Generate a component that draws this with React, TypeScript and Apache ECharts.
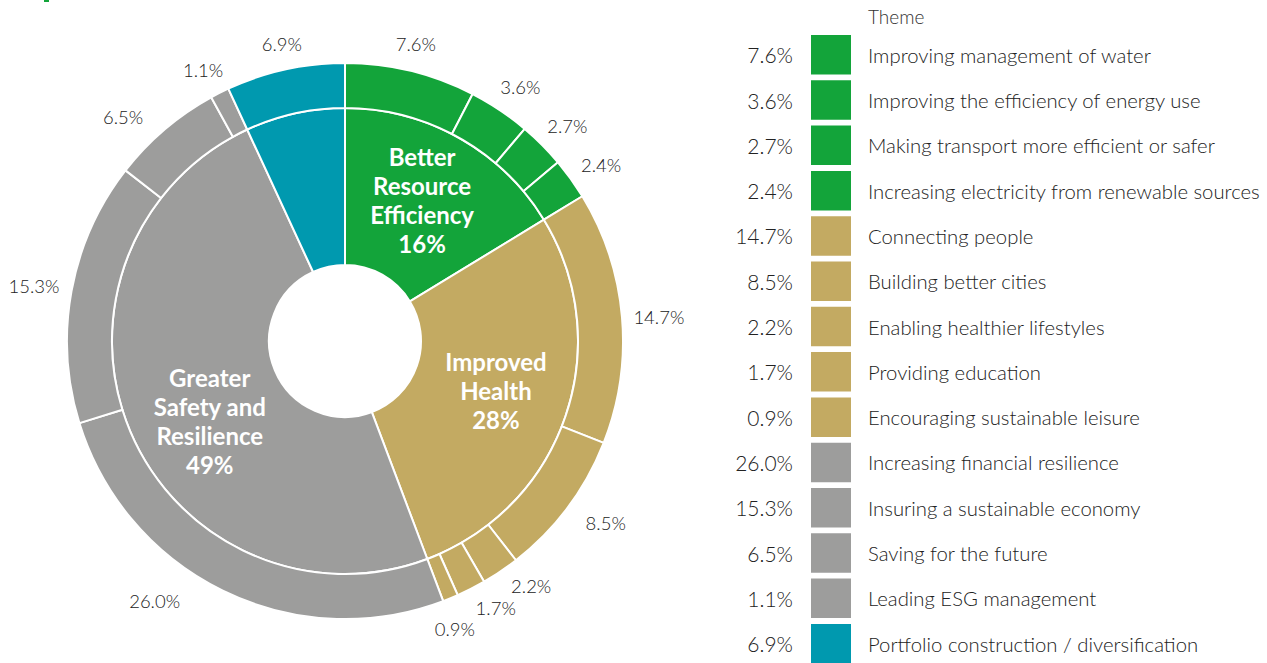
import React, { useEffect, useRef } from "react";
import * as echarts from "echarts";

const themeNames = [
  "Improving management of water",
  "Improving the efficiency of energy use",
  "Making transport more efficient or safer",
  "Increasing electricity from renewable sources",
  "Connecting people",
  "Building better cities",
  "Enabling healthier lifestyles",
  "Providing education",
  "Encouraging sustainable leisure",
  "Increasing financial resilience",
  "Insuring a sustainable economy",
  "Saving for the future",
  "Leading ESG management",
  "Portfolio construction / diversification",
];
const themeValues = [7.6, 3.6, 2.7, 2.4, 14.7, 8.5, 2.2, 1.7, 0.9, 26.0, 15.3, 6.5, 1.1, 6.9];
const themeGroup = [0, 0, 0, 0, 1, 1, 1, 1, 1, 2, 2, 2, 2, 3];

const categoryNames = [
  "Better Resource Efficiency",
  "Improved Health",
  "Greater Safety and Resilience",
  "Portfolio construction",
];
const categoryLabels = [
  "Better\nResource\nEfficiency\n16%",
  "Improved\nHealth\n28%",
  "Greater\nSafety and\nResilience\n49%",
  "",
];
const categoryColors = ["#13A43A", "#C3AA62", "#9D9D9C", "#0099AF"];

const FONT = "Lato, 'Open Sans', sans-serif";
const TEXT = "#222222";

export default function App() {
  const ref = useRef<HTMLDivElement>(null);

  useEffect(() => {
    document.body.style.margin = "0";
    if (!ref.current) return;
    const chart = echarts.init(ref.current, null, { renderer: "svg" });

    const categoryValues = categoryNames.map((_, c) =>
      themeValues.reduce((s, v, i) => (themeGroup[i] === c ? s + v : s), 0)
    );

    const center = [345, 341];
    const outerLabelNudge: Record<number, number[]> = {
      0: [-2, 2],
      1: [4, 2],
      2: [4, 2],
      3: [6, 4],
      4: [7, 3],
      5: [14, -2],
      6: [14, -10],
      7: [11, -7],
      8: [-7, 3],
      9: [-55, -17],
      10: [-8, 0],
      11: [-22, 10],
      12: [-3, 4],
      13: [3, 4],
    };
    const innerLabelNudge: Record<number, number[]> = { 0: [0, -4], 1: [2, -2], 2: [10, 19] };

    const legendTop = 35;
    const itemH = 39.5;
    const pitch = 45.3;

    const graphics: any[] = [
      { type: "rect", shape: { x: 44, y: 0, width: 5, height: 2 }, style: { fill: "#13A43A" } },
      {
        type: "text",
        x: 868,
        y: 16,
        style: {
          text: "Theme",
          fill: "#333",
          font: `300 19px ${FONT}`,
          textVerticalAlign: "middle",
        },
      },
    ];
    themeValues.forEach((v, i) => {
      const y = legendTop + i * pitch;
      graphics.push(
        {
          type: "text",
          x: 793,
          y: y + itemH / 2,
          style: {
            text: v.toFixed(1) + "%",
            fill: TEXT,
            font: `300 21px ${FONT}`,
            textAlign: "right",
            textVerticalAlign: "middle",
          },
        },
        {
          type: "rect",
          shape: { x: 811, y, width: 40, height: itemH },
          style: { fill: categoryColors[themeGroup[i]] },
        },
        {
          type: "text",
          x: 868,
          y: y + itemH / 2,
          style: {
            text: themeNames[i],
            fill: TEXT,
            font: `300 20.3px ${FONT}`,
            textVerticalAlign: "middle",
          },
        }
      );
    });

    const option: any = {
      animation: false,
      textStyle: { fontFamily: FONT },
      graphic: graphics,
      series: [
        {
          type: "pie",
          center,
          radius: [76, 233],
          startAngle: 90,
          clockwise: true,
          silent: true,
          emphasis: { disabled: true },
          itemStyle: { borderColor: "#fff", borderWidth: 2 },
          labelLine: { show: false },
          label: {
            show: true,
            position: "inside",
            color: "#fff",
            fontWeight: "bold",
            fontSize: 24,
            lineHeight: 29,
            fontFamily: FONT,
            formatter: (p: any) => categoryLabels[p.dataIndex],
          },
          data: categoryNames.map((n, c) => ({
            name: n,
            value: categoryValues[c],
            itemStyle: { color: categoryColors[c] },
            label: innerLabelNudge[c] ? { offset: innerLabelNudge[c] } : undefined,
          })),
        },
        {
          type: "pie",
          center,
          radius: [233, 278],
          startAngle: 90,
          clockwise: true,
          silent: true,
          emphasis: { disabled: true },
          itemStyle: { borderColor: "#fff", borderWidth: 2 },
          label: { show: false },
          labelLine: { show: false },
          data: themeNames.map((n, i) => ({
            name: n,
            value: themeValues[i],
            itemStyle: { color: categoryColors[themeGroup[i]] },
          })),
        },
        {
          type: "pie",
          center,
          radius: [292, 318],
          startAngle: 90,
          clockwise: true,
          silent: true,
          avoidLabelOverlap: false,
          emphasis: { disabled: true },
          itemStyle: { color: "rgba(0,0,0,0)", borderWidth: 0 },
          labelLine: { show: false },
          labelLayout: { hideOverlap: false },
          label: {
            show: true,
            position: "inside",
            color: TEXT,
            fontSize: 18.5,
            fontWeight: 300,
            fontFamily: FONT,
            formatter: (p: any) => themeValues[p.dataIndex].toFixed(1) + "%",
          },
          data: themeNames.map((n, i) => ({
            name: "lbl-" + n,
            value: themeValues[i],
            label: outerLabelNudge[i] ? { offset: outerLabelNudge[i] } : undefined,
          })),
        },
      ],
    };

    chart.setOption(option);
    return () => chart.dispose();
  }, []);

  return <div ref={ref} style={{ width: 1267, height: 663 }} />;
}
